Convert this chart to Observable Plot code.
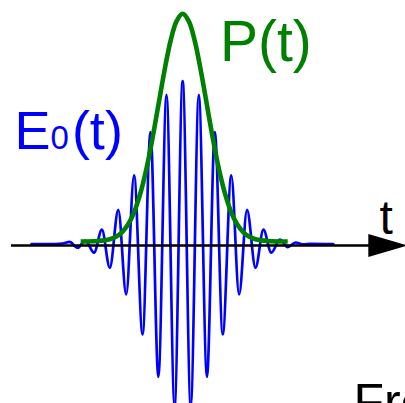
<!DOCTYPE html>
<html>
<head>
<meta charset="utf-8">
<script src="https://cdn.jsdelivr.net/npm/d3@7"></script>
<script src="https://cdn.jsdelivr.net/npm/@observablehq/plot@0.6"></script>
<style>
  html, body { margin: 0; padding: 0; background: #fff; overflow: hidden; }
  #chart svg { display: block; }
</style>
</head>
<body>
<div id="chart"></div>
<script>
// Electric field of a short pulse, E0(t): extrema of the carrier oscillation (t in fs)
const fieldT = [-24.9, -21.0, -19.8, -18.6, -17.3, -16.0, -14.6, -13.3, -12.0, -10.6, -9.3, -8.0,
  -6.6, -5.3, -4.0, -2.66, -1.33, 0, 1.33, 2.66, 4.0, 5.3, 6.6, 8.0, 9.3, 10.6, 12.0, 13.3,
  14.6, 16.0, 17.3, 18.6, 19.9, 21.0, 24.8];
const fieldE = [0.008, 0.009, 0.012, 0.022, -0.014, 0.030, -0.044, 0.096, -0.136, 0.217, -0.298, 0.426,
  -0.542, 0.690, -0.800, 0.917, -0.975, 1.000, -0.975, 0.917, -0.800, 0.690, -0.542, 0.426, -0.298, 0.217, -0.136, 0.096,
  -0.044, 0.035, -0.010, 0.018, 0.006, 0.010, 0.008];

// Intensity envelope P(t)
const powerT = [-16.8, -14, -12, -11, -10, -9, -8, -7, -6, -5, -4, -3, -2, -1, 0,
  1, 2, 3, 4, 5, 6, 7, 8, 9, 10, 11, 12, 14, 17.3];
const powerP = [0.024, 0.027, 0.038, 0.053, 0.080, 0.127, 0.202, 0.312, 0.461, 0.646, 0.854, 1.063, 1.244, 1.366, 1.410,
  1.366, 1.244, 1.063, 0.854, 0.646, 0.461, 0.312, 0.202, 0.127, 0.080, 0.053, 0.038, 0.027, 0.024];

// Time axis extent
const axisStart = -28.2;
const axisEnd = 37.0;

// Labels
const fieldLabel = "E0(t)";
const powerLabel = "P(t)";
const timeLabel = "t";
const domainLabel = "Frequency";

const field = fieldT.map((t, i) => ({t, v: fieldE[i]}));
const power = powerT.map((t, i) => ({t, v: powerP[i]}));

// Filled, elongated arrow head whose tip sits at the anchor point
const arrowHead = {
  draw(context) {
    context.moveTo(0, 0);
    context.lineTo(-39, -11.5);
    context.lineTo(-39, 11.5);
    context.closePath();
  }
};

const font = "Liberation Sans, Arial, Helvetica, sans-serif";

const chart = Plot.plot({
  width: 405,
  height: 403,
  margin: 0,
  style: {fontFamily: font, background: "#fff"},
  x: {domain: [-30, 36.7], axis: null},
  y: {domain: [-0.962, 1.491], axis: null},
  marks: [
    Plot.line(field, {x: "t", y: "v", curve: "monotone-x", stroke: "#0000ff", strokeWidth: 2.7}),
    Plot.ruleY([0], {x1: axisStart, x2: axisEnd - 3, stroke: "#000", strokeWidth: 2.5}),
    Plot.dot([0], {x: axisEnd, y: 0, symbol: arrowHead, fill: "#000", stroke: "none"}),
    Plot.line(power, {x: "t", y: "v", curve: "catmull-rom", stroke: "#008000", strokeWidth: 4.6, strokeLinecap: "butt"}),
    Plot.text([fieldLabel], {frameAnchor: "top-left", dx: 14, dy: 148.3, text: d => d, textAnchor: "start", lineAnchor: "bottom", fontSize: 54, fill: "#0000ff", className: "field-label"}),
    Plot.text([powerLabel], {frameAnchor: "top-left", dx: 219.5, dy: 60, text: d => d, textAnchor: "start", lineAnchor: "bottom", fontSize: 57, fill: "#008000"}),
    Plot.text([timeLabel], {frameAnchor: "top-left", dx: 379, dy: 233.3, text: d => d, textAnchor: "start", lineAnchor: "bottom", fontSize: 48, fill: "#000"}),
    Plot.text([domainLabel], {frameAnchor: "top-left", dx: 353, dy: 418.5, text: d => d, textAnchor: "start", lineAnchor: "bottom", fontSize: 50, fill: "#000"})
  ]
});

// Render the "0" of E0(t) as a smaller index character
d3.select(chart).selectAll(".field-label text").each(function () {
  const s = this.textContent;
  const el = d3.select(this);
  el.text(null);
  el.append("tspan").text(s.slice(0, 1));
  el.append("tspan").attr("font-size", 33).text(s.slice(1, 2));
  el.append("tspan").attr("dx", 3).text(s.slice(2));
});

document.getElementById("chart").appendChild(chart);
</script>
</body>
</html>
